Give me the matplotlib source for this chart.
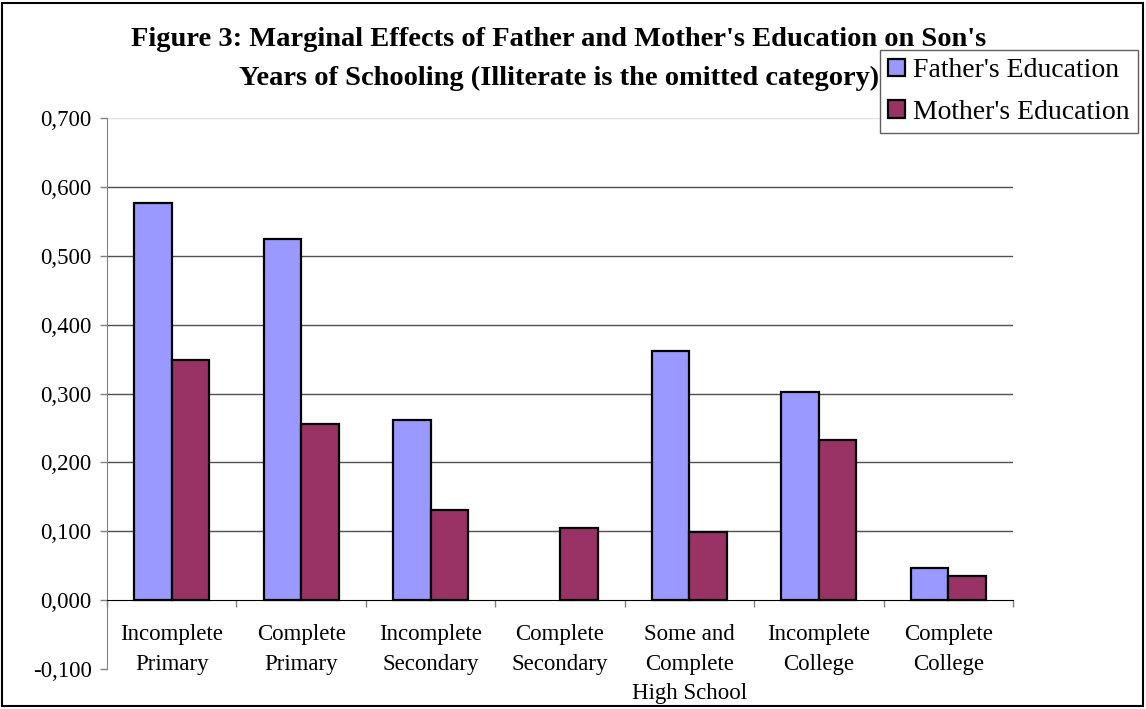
import numpy as np
import matplotlib.pyplot as plt
from matplotlib.patches import Rectangle

# data
categories = ["Incomplete\nPrimary", "Complete\nPrimary", "Incomplete\nSecondary",
              "Complete\nSecondary", "Some and\nComplete\nHigh School",
              "Incomplete\nCollege", "Complete\nCollege"]
father = [0.576, 0.524, 0.261, 0.0, 0.362, 0.302, 0.047]
mother = [0.348, 0.256, 0.131, 0.104, 0.099, 0.232, 0.035]
yticks = [-0.1, 0.0, 0.1, 0.2, 0.3, 0.4, 0.5, 0.6, 0.7]

plt.rcParams['font.family'] = ['Liberation Serif', 'DejaVu Serif']

W, H = 1146, 709
fig = plt.figure(figsize=(W / 100, H / 100), dpi=100)
ax = fig.add_axes([107 / W, 1 - 669 / H, (1013 - 107) / W, (669 - 118) / H])

x = np.arange(len(categories))
bw = 0.29
b1 = ax.bar(x - bw / 2, father, bw, color='#9999FF', edgecolor='black',
            linewidth=[1.6 if v else 0 for v in father],
            label="Father's Education", zorder=3)
b2 = ax.bar(x + bw / 2, mother, bw, color='#993366', edgecolor='black', lw=1.6,
            label="Mother's Education", zorder=3)

ax.set_xlim(-0.5, len(categories) - 0.5)
ax.set_ylim(-0.1, 0.7)
ax.set_yticks(yticks)
ax.set_yticklabels([f"{v:.3f}".replace('.', ',') for v in yticks], fontsize=16.5)

# gridlines (light one on top)
for v in yticks[2:-1]:
    ax.axhline(v, color='#505050', lw=1, zorder=1)
ax.axhline(yticks[-1], color='#e0e0e0', lw=1, zorder=1)

ax.spines['top'].set_visible(False)
ax.spines['right'].set_visible(False)
ax.spines['left'].set_color('#808080')
ax.spines['bottom'].set_position(('data', 0))
ax.spines['bottom'].set_color('black')
ax.spines['bottom'].set_zorder(4)
ax.tick_params(axis='y', colors='#808080', labelcolor='black', length=5, width=1, pad=6)

ax.set_xticks(x)
ax.set_xticklabels(categories, fontsize=16.5, linespacing=1.55)
ax.set_xticks(np.arange(len(categories) + 1) - 0.5, minor=True)
ax.tick_params(axis='x', which='major', length=0, pad=17)
ax.tick_params(axis='x', which='minor', length=5, width=1, color='#808080')

fig.text(559 / W, 1 - 27 / H,
         "Figure 3: Marginal Effects of Father and Mother's Education on Son's\n"
         "Years of Schooling (Illiterate is the omitted category)",
         ha='center', va='top', fontsize=20.5, fontweight='bold', linespacing=1.7)

leg = fig.legend(handles=[b1, b2], loc='upper left',
                 bbox_to_anchor=(880 / W, 1 - 50 / H), fontsize=20,
                 frameon=True, fancybox=False, edgecolor='#606060',
                 framealpha=1, handlelength=0.6, handleheight=0.6,
                 handletextpad=0.3, labelspacing=0.6, borderpad=0.3,
                 borderaxespad=0)
leg.get_frame().set_linewidth(1)

fig.add_artist(Rectangle((2 / W, 3 / H), (W - 5) / W, (H - 6) / H,
                         transform=fig.transFigure, fill=False,
                         edgecolor='black', lw=1.5))

fig.savefig('out.png', dpi=100)
